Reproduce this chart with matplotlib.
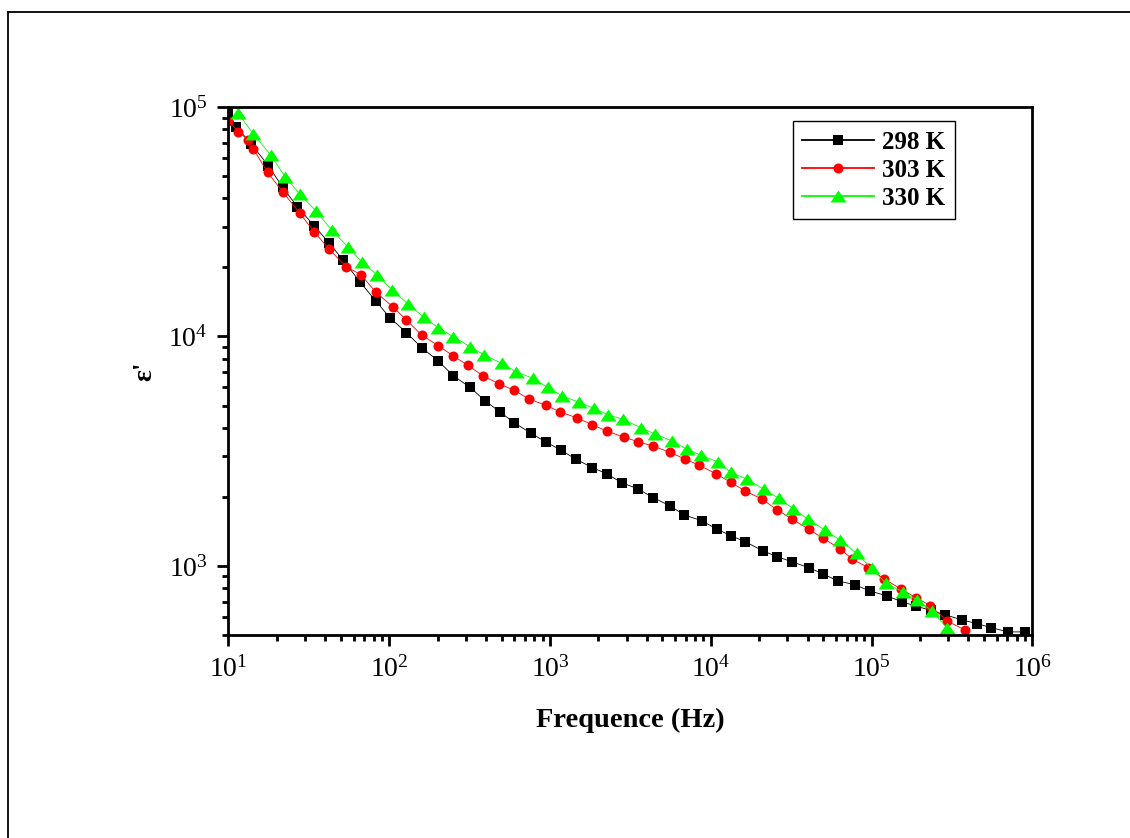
import matplotlib
matplotlib.use("Agg")
import matplotlib.pyplot as plt
from matplotlib.lines import Line2D
from matplotlib.ticker import LogLocator, NullFormatter, LogFormatterMathtext

# ---------------- data ----------------
freq_298 = [10, 11.2, 13.9, 17.7, 21.7, 26.8, 34.2, 42.4, 51.7, 65.7, 82.3, 101, 128, 159,
            202, 250, 318, 394, 488, 599, 761, 943, 1164, 1443, 1830, 2249, 2788, 3537,
            4384, 5568, 6834, 8767, 10870, 13340, 16360, 20990, 25880, 31800, 40740,
            50000, 61970, 78740, 97600, 124000, 153700, 188600, 233800, 288600, 365900,
            451700, 557500, 707000, 907600]
eps_298 = [94200, 82100, 68800, 55500, 44700, 36800, 30300, 25500, 21500, 17300, 14300,
           12070, 10390, 8940, 7820, 6750, 6004, 5253, 4688, 4211, 3786, 3470, 3203, 2925,
           2682, 2525, 2307, 2165, 1984, 1830, 1668, 1576, 1449, 1355, 1276, 1166, 1098,
           1044, 983, 923, 860, 829, 778, 742, 699, 669, 640, 612, 582, 561, 538, 516, 516]

freq_303 = [10, 11.5, 13.3, 14.3, 17.5, 21.7, 27.8, 34.2, 42.2, 53.8, 66.7, 82.3, 105, 128,
            159, 202, 250, 307, 381, 483, 599, 739, 943, 1157, 1476, 1830, 2249, 2882,
            3537, 4346, 5568, 6902, 8470, 10760, 13280, 16360, 20930, 25880, 31800, 40740,
            50000, 63500, 76170, 95260, 119300, 152100, 188600, 232800, 295200, 380300]
eps_303 = [87200, 78050, 71800, 65600, 51940, 42740, 34430, 28530, 24060, 20150, 18590,
           15630, 13490, 11800, 10150, 9120, 8222, 7511, 6749, 6209, 5830, 5343, 5013,
           4688, 4415, 4128, 3874, 3638, 3480, 3333, 3130, 2925, 2747, 2525, 2316, 2122,
           1953, 1754, 1607, 1445, 1320, 1190, 1070, 983, 880, 794, 728, 671, 576, 526]

freq_330 = [11.5, 14.3, 18.3, 22.5, 27.8, 35.0, 43.8, 55.6, 67.9, 84.2, 104, 131, 164, 202,
            250, 318, 390, 500, 614, 780, 966, 1191, 1519, 1875, 2301, 2852, 3660, 4491,
            5703, 7070, 8678, 11120, 13280, 16840, 21390, 26520, 32540, 40340, 51230,
            63500, 80670, 100000, 122700, 155900, 192100, 238200, 295200]
eps_330 = [93900, 76040, 61800, 49700, 41650, 35240, 29110, 24470, 21050, 18530, 15950,
           13850, 12120, 10920, 9980, 9030, 8306, 7640, 7025, 6575, 6004, 5506, 5167, 4864,
           4550, 4357, 4005, 3760, 3516, 3236, 3036, 2840, 2561, 2387, 2159, 1972, 1777,
           1597, 1435, 1298, 1136, 977, 841, 773, 711, 637, 535]

labels = ["298 K", "303 K", "330 K"]
colors = ["#000000", "#ff0000", "#00ff00"]
x_label = "Frequence (Hz)"
y_label = "ε'"

# ---------------- style ----------------
plt.rcParams["font.family"] = ["Liberation Serif", "DejaVu Serif"]
plt.rcParams["mathtext.fontset"] = "custom"
plt.rcParams["mathtext.rm"] = "Liberation Serif"
plt.rcParams["mathtext.it"] = "Liberation Serif:italic"
plt.rcParams["mathtext.bf"] = "Liberation Serif:bold"
plt.rcParams["mathtext.default"] = "regular"

fig = plt.figure(figsize=(11.30, 8.38), dpi=100)
ax = fig.add_axes([0.2022, 0.2422, 0.7113, 0.6301])

tri = [(-1, -0.75), (1, -0.75), (0, 0.75)]

ax.plot(freq_298, eps_298, color=colors[0], lw=0.6, marker="s", ms=6.5, mew=0,
        label=labels[0])
ax.plot(freq_303, eps_303, color=colors[1], lw=0.6, marker="o", ms=7.2, mew=0,
        label=labels[1])
ax.plot(freq_330, eps_330, color=colors[2], lw=0.6, marker=tri, ms=11.5, mew=0,
        label=labels[2])

ax.set_xscale("log")
ax.set_yscale("log")
ax.set_xlim(10, 1e6)
ax.set_ylim(500, 1e5)

for sp in ax.spines.values():
    sp.set_linewidth(2)

ax.xaxis.set_major_locator(LogLocator(base=10, numticks=20))
ax.xaxis.set_minor_locator(LogLocator(base=10, subs=range(2, 10), numticks=50))
ax.yaxis.set_major_locator(LogLocator(base=10, numticks=20))
ax.yaxis.set_minor_locator(LogLocator(base=10, subs=range(2, 10), numticks=50))
ax.xaxis.set_major_formatter(LogFormatterMathtext())
ax.yaxis.set_major_formatter(LogFormatterMathtext())
ax.xaxis.set_minor_formatter(NullFormatter())
ax.yaxis.set_minor_formatter(NullFormatter())

ax.tick_params(which="both", direction="out", top=False, right=False, width=2)
ax.tick_params(which="major", length=8, labelsize=20)
ax.tick_params(which="minor", length=4.5)
ax.tick_params(axis="x", which="major", pad=7)
ax.tick_params(axis="y", which="major", pad=7)

ax.set_xlabel(x_label, fontsize=20.5, fontweight="bold", labelpad=18)
ax.set_ylabel(y_label, fontsize=20, fontweight="bold", labelpad=8)

leg = ax.legend(loc="upper left", bbox_to_anchor=(0.7023, 0.9735), borderaxespad=0,
                prop={"size": 18, "weight": "bold"}, frameon=True, fancybox=False,
                edgecolor="black", framealpha=1, handlelength=2.85, handletextpad=0.35,
                labelspacing=0.2, borderpad=0.38)
leg.get_frame().set_linewidth(1.0)
for h in leg.legend_handles:
    h.set_linewidth(1.3)

# outer frame (left and top edges visible in the reference)
fig.add_artist(Line2D([0.0071, 0.0071], [0.0, 0.9857], transform=fig.transFigure,
                      color="black", lw=1.3))
fig.add_artist(Line2D([0.0071, 1.0], [0.9857, 0.9857], transform=fig.transFigure,
                      color="black", lw=1.3))

fig.savefig("out.png", dpi=100)
